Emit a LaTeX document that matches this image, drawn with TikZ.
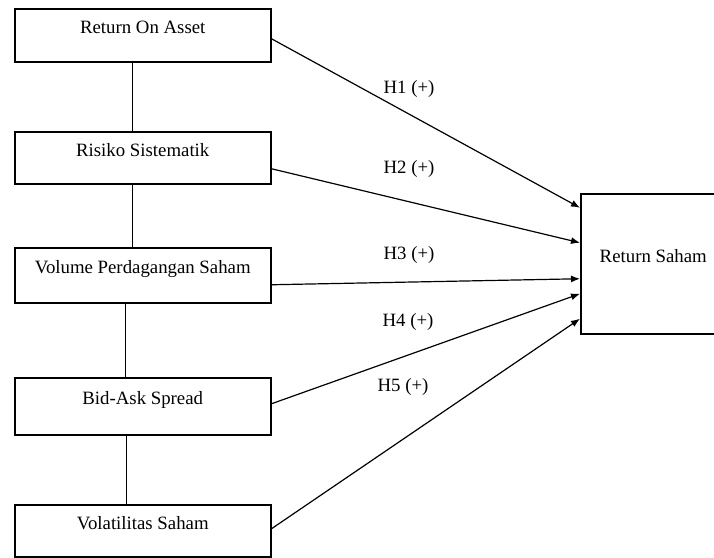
\documentclass[tikz,border=0pt]{standalone}
\usepackage{fontspec}
\setmainfont{Liberation Serif}
\usetikzlibrary{arrows.meta}
\begin{document}
\begin{tikzpicture}[x=1pt,y=-1pt,
  every node/.style={font=\fontsize{18.8}{22}\selectfont},
  varbox/.style={draw, line width=1.5pt, rectangle, minimum width=256pt, anchor=north west, inner sep=0pt, text height=13pt, text depth=16pt},
  depbox/.style={draw, line width=1.5pt, rectangle, minimum width=145pt, minimum height=140pt, anchor=north west, inner sep=0pt, text height=13pt, text depth=16pt},
  link/.style={line width=1.2pt},
  hyp/.style={line width=1.2pt, -{Latex[length=9pt,width=7pt]}},
  hlabel/.style={inner sep=0pt}
]
\path[use as bounding box] (0,0) rectangle (714,557);
\clip (0,0) rectangle (714,557);

\node[varbox, minimum height=53pt] (roa) at (14,8) {Return On Asset};
\node[varbox, minimum height=52pt] (ris) at (14,131) {Risiko Sistematik};
\node[varbox, minimum height=55pt] (vol) at (14,247) {Volume Perdagangan Saham};
\node[varbox, minimum height=57pt] (bid) at (14,377) {Bid-Ask Spread};
\node[varbox, minimum height=52pt] (vla) at (14,504) {Volatilitas Saham};

\node[depbox] (ret) at (580,193) {Return Saham};

\draw[link] ([xshift=-10pt]roa.south) -- ([xshift=-10pt]ris.north);
\draw[link] ([xshift=-10pt]ris.south) -- ([xshift=-10pt]vol.north);
\draw[link] ([xshift=-17pt]vol.south) -- ([xshift=-17pt]bid.north);
\draw[link] ([xshift=-16pt]bid.south) -- ([xshift=-16pt]vla.north);

\draw[hyp] ([yshift=-3.5pt]roa.east) -- ([yshift=56pt]ret.west);
\draw[hyp] ([yshift=-11pt]ris.east) -- ([yshift=21pt]ret.west);
\draw[hyp] ([yshift=-9.5pt]vol.east) -- ([yshift=-15pt]ret.west);
\draw[hyp] ([yshift=2.5pt]bid.east) -- ([yshift=-30pt]ret.west);
\draw[hyp] ([yshift=2pt]vla.east) -- ([yshift=-55pt]ret.west);

\node[hlabel] (h1) at (409,89) {H1 (+)};
\node[hlabel] (h2) at (409,169) {H2 (+)};
\node[hlabel] (h3) at (409,255) {H3 (+)};
\node[hlabel] (h4) at (408,322) {H4 (+)};
\node[hlabel] (h5) at (403,387) {H5 (+)};
\end{tikzpicture}
\end{document}
